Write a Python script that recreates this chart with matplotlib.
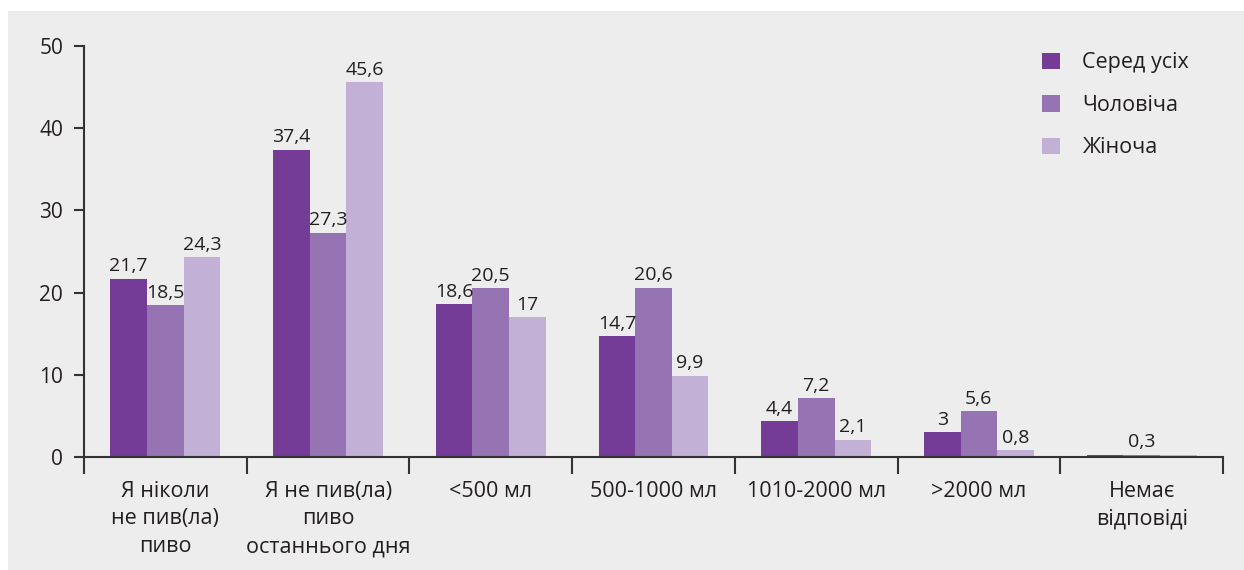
import numpy as np
import matplotlib.pyplot as plt
from matplotlib.patches import Rectangle

plt.rcParams['font.family'] = ['Open Sans', 'DejaVu Sans']

categories = ['Я ніколи\nне пив(ла)\nпиво', 'Я не пив(ла)\nпиво\nостаннього дня',
              '<500 мл', '500-1000 мл', '1010-2000 мл', '>2000 мл', 'Немає\nвідповіді']
series = ['Серед усіх', 'Чоловіча', 'Жіноча']
all_vals = [21.7, 37.4, 18.6, 14.7, 4.4, 3.0, 0.3]
male_vals = [18.5, 27.3, 20.5, 20.6, 7.2, 5.6, 0.3]
female_vals = [24.3, 45.6, 17.0, 9.9, 2.1, 0.8, 0.3]
# підписи: для "Немає відповіді" показано лише одне значення
all_labels = ['21,7', '37,4', '18,6', '14,7', '4,4', '3', None]
male_labels = ['18,5', '27,3', '20,5', '20,6', '7,2', '5,6', '0,3']
female_labels = ['24,3', '45,6', '17', '9,9', '2,1', '0,8', None]

colors = ['#743c96', '#9673b2', '#c3b0d6']
txt = '#231f20'

fig = plt.figure(figsize=(12.44, 5.70), dpi=100)
fig.patch.set_facecolor('white')
fig.patches.append(Rectangle((8/1244, 0), 1, 1 - 11/570, transform=fig.transFigure,
                             facecolor='#ededed', edgecolor='none', zorder=-10))

ax = fig.add_axes([84/1244, 1 - 457/570, (1223-84)/1244, (457-46)/570])
ax.set_facecolor('none')

x = np.arange(len(categories)) + 0.5
w = 0.225
data = [all_vals, male_vals, female_vals]
labels = [all_labels, male_labels, female_labels]
for k in range(3):
    pos = x + (k - 1) * w
    bars = ax.bar(pos, data[k], width=w, color=colors[k], label=series[k], zorder=2)
    for p, v, lab in zip(pos, data[k], labels[k]):
        if lab is None:
            continue
        ax.text(p, v + 0.4, lab, ha='center', va='bottom', fontsize=14, color=txt)

ax.set_xlim(0, len(categories))
ax.set_ylim(0, 50)
ax.set_yticks(range(0, 51, 10))
ax.set_xticks(np.arange(len(categories) + 1))
ax.set_xticklabels([])
ax.set_xticks(x, minor=True)
ax.set_xticklabels(categories, minor=True, fontsize=15.5, color=txt, linespacing=1.42)
ax.tick_params(axis='x', which='minor', length=0, pad=17)
ax.tick_params(axis='x', which='major', length=12, width=1.5, color='#333333', direction='out')
ax.tick_params(axis='y', length=7, width=1.5, color='#333333', labelsize=15, labelcolor=txt, pad=8)
for s in ['top', 'right']:
    ax.spines[s].set_visible(False)
for s in ['left', 'bottom']:
    ax.spines[s].set_color('#333333')
    ax.spines[s].set_linewidth(1.5)

ax.legend(loc='upper left', bbox_to_anchor=(1023/1244, 1 - 33/570), bbox_transform=fig.transFigure,
          frameon=False, fontsize=15.5, handlelength=0.8, handleheight=0.8, labelspacing=1.0,
          handletextpad=1.05, labelcolor=txt)

fig.savefig('out.png', dpi=100)
